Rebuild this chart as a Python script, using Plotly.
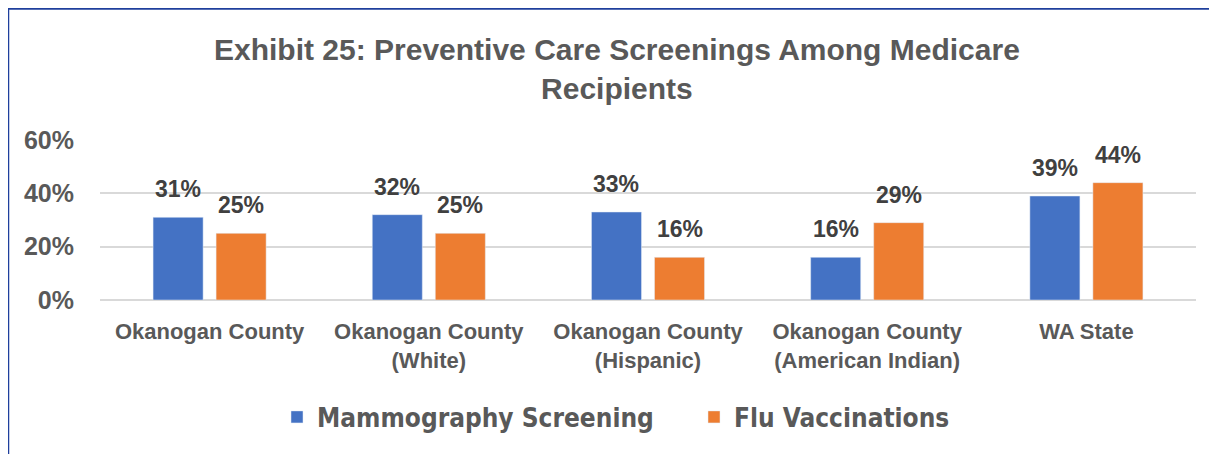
import plotly.graph_objects as go

# 데이터
categories = [
    "Okanogan County",
    "Okanogan County<br>(White)",
    "Okanogan County<br>(Hispanic)",
    "Okanogan County<br>(American Indian)",
    "WA State",
]
mammography = [0.31, 0.32, 0.33, 0.16, 0.39]
flu_vaccinations = [0.25, 0.25, 0.16, 0.29, 0.44]
y_ticks = [0, 0.2, 0.4, 0.6]

# 페이지 크기 (body 기본 여백 8px 보정)
PAGE_W, PAGE_H, OFF = 1217, 454, 8
W, H = PAGE_W - OFF, PAGE_H - OFF
PLOT_L, PLOT_R, PLOT_T, PLOT_B = 100, 1196, 140, 300  # 페이지 기준 픽셀
ML, MR = PLOT_L - OFF, PAGE_W - PLOT_R
MT, MB = PLOT_T - OFF, PAGE_H - PLOT_B
plot_w = PLOT_R - PLOT_L
plot_h = PLOT_B - PLOT_T

colors = {"blue": "#4472C4", "orange": "#ED7D31", "text": "#595959", "label": "#404040"}
FONT = "Liberation Sans, Arial"

fig = go.Figure()
fig.add_trace(go.Bar(x=categories, y=mammography, name="Mammography Screening",
                     marker=dict(color=colors["blue"])))
fig.add_trace(go.Bar(x=categories, y=flu_vaccinations, name="Flu Vaccinations",
                     marker=dict(color=colors["orange"])))

# 막대 위 데이터 레이블
slot = plot_w / len(categories) * (1 - 0.425) / 2
for vals, shift in [(mammography, -slot / 2), (flu_vaccinations, slot / 2)]:
    for c, v in zip(categories, vals):
        fig.add_annotation(x=c, y=v, text=f"{v:.0%}", showarrow=False,
                           xshift=shift, yshift=13, yanchor="bottom",
                           font=dict(size=23, color=colors["label"], family=FONT,
                                     weight="bold"))

# 페이지 좌표 -> paper 좌표
px_x = lambda p: (p - PLOT_L) / plot_w
px_y = lambda p: (PLOT_B - p) / plot_h
cont_y = lambda p: 1 - (p - OFF) / H

# 외곽 테두리 (왼쪽, 위쪽)
fig.add_shape(type="line", xref="paper", yref="paper",
              x0=px_x(OFF), x1=px_x(OFF), y0=px_y(OFF), y1=px_y(PAGE_H + 5),
              line=dict(color="#1F3F9C", width=2.5))
fig.add_shape(type="line", xref="paper", yref="paper",
              x0=px_x(OFF - 1), x1=px_x(PAGE_W + 5), y0=px_y(OFF + 0.5), y1=px_y(OFF + 0.5),
              line=dict(color="#1F3F9C", width=2.5))

# 제목 (두 줄)
fig.add_annotation(text="Exhibit 25: Preventive Care Screenings Among Medicare<br>Recipients",
                   xref="paper", yref="paper", x=px_x(617), y=px_y(69),
                   xanchor="center", yanchor="middle", showarrow=False,
                   font=dict(size=30, color=colors["text"], family=FONT, weight="bold"))

fig.update_layout(
    width=W, height=H,
    margin=dict(l=ML, r=MR, t=MT, b=MB, autoexpand=False),
    paper_bgcolor="white", plot_bgcolor="white",
    barmode="group", bargap=0.425, bargroupgap=0.206,
    font=dict(family=FONT, color=colors["text"]),
    xaxis=dict(tickfont=dict(size=22, color=colors["text"], weight="bold"),
               showgrid=False, showline=False, ticks="", automargin=False,
               ticklabelstandoff=16),
    yaxis=dict(range=[0, 0.6], tickvals=y_ticks, tickformat=".0%",
               tickfont=dict(size=25, color=colors["text"], weight="bold"),
               showgrid=True, gridcolor="#D9D9D9", gridwidth=1.5,
               zeroline=True, zerolinecolor="#D9D9D9", zerolinewidth=1.5,
               ticklabelstandoff=25, automargin=False),
    legend=dict(orientation="h", x=px_x(277), xanchor="left",
                y=cont_y(417), yref="container", yanchor="middle",
                font=dict(size=26, color=colors["text"],
                          family="Liberation Sans Narrow, DejaVu Sans Condensed, Arial",
                          weight="bold"),
                itemwidth=30, entrywidth=372, entrywidthmode="pixels",
                traceorder="normal"),
    showlegend=True,
)

fig.write_html("out.html")
